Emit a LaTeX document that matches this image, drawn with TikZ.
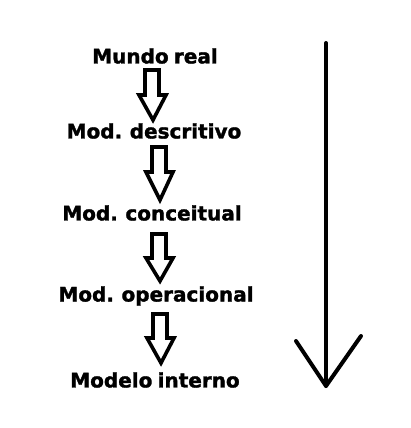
\documentclass[tikz,border=0pt]{standalone}
\usepackage{fontspec}
\setmainfont{DejaVu Sans}[BoldFeatures={FakeBold=1.5,WordSpace=0.75}]
\begin{document}
\begin{tikzpicture}[x=1pt,y=-1pt,
  lbl/.style={font=\fontsize{20}{22}\selectfont\bfseries, inner sep=0pt, anchor=center},
  hollow/.style={draw=black, line width=3.6pt, line join=miter, fill=white},
  bigarrow/.style={draw=black, line width=4pt, line cap=round, line join=round}]
\useasboundingbox[fill=white] (0,0) rectangle (411,428);
\node[lbl] (n1) at (155,56) {Mundo real};
\node[lbl] (n2) at (154,131) {Mod. descritivo};
\node[lbl] (n3) at (152,213) {Mod. conceitual};
\node[lbl] (n4) at (156,296) {Mod. operacional};
\node[lbl] (n5) at (155,380) {Modelo interno};
\newcommand\blockarr[4]{%
  \draw[hollow] (#1-7,#2) -- (#1+7,#2) -- (#1+7,#3) -- (#1+14,#3) -- (#1+1,#4) -- (#1-13,#3) -- (#1-7,#3) -- cycle;}
\blockarr{152}{70}{95}{120}
\blockarr{159}{147}{172}{200}
\blockarr{159}{234}{258}{281}
\blockarr{160}{314}{338}{363}
\coordinate (t) at (326,43);
\coordinate (b) at (326,386);
\coordinate (l) at (296,341);
\coordinate (r) at (361,336);
\draw[bigarrow] (t) -- (b);
\draw[bigarrow] (l) -- (b) -- (r);
\end{tikzpicture}
\end{document}
